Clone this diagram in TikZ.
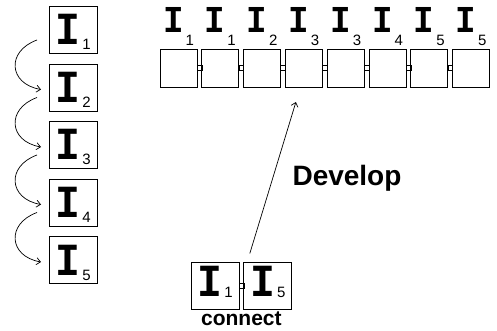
\documentclass[tikz,border=0pt]{standalone}
\usepackage{fontspec}
\setsansfont{Liberation Sans}
\newfontfamily\Ifont{Liberation Mono}
\newfontfamily\digitfont{Liberation Sans}
\usepackage{graphicx}
\usepackage{tikz}
\usetikzlibrary{arrows.meta,positioning}

% I with a lowered digit
\newcommand{\Isub}[2][5pt]{\scalebox{0.9}[1]{\Ifont\bfseries I}\kern2pt\raisebox{-#1}{\digitfont\fontsize{15}{15}\selectfont #2}}

\begin{document}
\begin{tikzpicture}[x=1pt, y=1pt, >={Straight Barb[length=4pt,width=7pt]},
    cell/.style={draw, line width=0.8pt, minimum width=48pt, minimum height=47pt, inner sep=0pt, outer sep=0pt, text height=35pt, text depth=5pt, font=\fontsize{46}{46}\selectfont},
    slot/.style={draw, line width=0.8pt, minimum width=37pt, minimum height=38pt, inner sep=0pt, outer sep=0pt},
    link/.style={draw, line width=0.6pt, minimum width=4.8pt, minimum height=5pt, inner sep=0pt, outer sep=0pt},
    tag/.style={inner sep=0pt, text height=19pt, text depth=13pt, font=\fontsize{38}{38}\selectfont},
    hop/.style={->, line width=0.7pt}]
    \useasboundingbox (0,0) rectangle (497,-331);

    % Left column
    \node[cell] (L1) at (73,-30) {\Isub{1}};
    \node[cell, below=10.5pt of L1] (L2) {\Isub{2}};
    \node[cell, below=10.5pt of L2] (L3) {\Isub{3}};
    \node[cell, below=10.5pt of L3] (L4) {\Isub{4}};
    \node[cell, below=10.5pt of L4] (L5) {\Isub{5}};

    \draw[hop] ([shift={(-12,-10)}]L1.west) to[out=200, in=170, looseness=1.7] ([shift={(-8,-2)}]L2.west);
    \draw[hop] ([shift={(-12,-10)}]L2.west) to[out=200, in=170, looseness=1.7] ([shift={(-8,-2)}]L3.west);
    \draw[hop] ([shift={(-12,-10)}]L3.west) to[out=200, in=170, looseness=1.7] ([shift={(-8,-2)}]L4.west);
    \draw[hop] ([shift={(-12,-10)}]L4.west) to[out=200, in=170, looseness=1.7] ([shift={(-8,-2)}]L5.west);

    % Top row
    \node[slot] (b1) at (178.5,-68) {};
    \node[link, right=0pt of b1] (k1) {};
    \node[slot, right=0pt of k1] (b2) {};
    \node[link, right=0pt of b2] (k2) {};
    \node[slot, right=0pt of k2] (b3) {};
    \node[link, right=0pt of b3] (k3) {};
    \node[slot, right=0pt of k3] (b4) {};
    \node[link, right=0pt of b4] (k4) {};
    \node[slot, right=0pt of k4] (b5) {};
    \node[link, right=0pt of b5] (k5) {};
    \node[slot, right=0pt of k5] (b6) {};
    \node[link, right=0pt of b6] (k6) {};
    \node[slot, right=0pt of k6] (b7) {};
    \node[link, right=0pt of b7] (k7) {};
    \node[slot, right=0pt of k7] (b8) {};

    \node[tag, above=3pt of b1] (t1) {\Isub[13pt]{1}};
    \node[tag, above=3pt of b2] (t2) {\Isub[13pt]{1}};
    \node[tag, above=3pt of b3] (t3) {\Isub[13pt]{2}};
    \node[tag, above=3pt of b4] (t4) {\Isub[13pt]{3}};
    \node[tag, above=3pt of b5] (t5) {\Isub[13pt]{3}};
    \node[tag, above=3pt of b6] (t6) {\Isub[13pt]{4}};
    \node[tag, above=3pt of b7] (t7) {\Isub[13pt]{5}};
    \node[tag, above=3pt of b8] (t8) {\Isub[13pt]{5}};

    % Connected pair
    \node[cell, text height=25pt] (p1) at (215,-286) {\Isub[1pt]{1}};
    \node[link, right=0pt of p1] (pk) {};
    \node[cell, text height=25pt, right=0pt of pk] (p2) {\Isub[1pt]{5}};
    \coordinate (pb) at (pk |- p1.south);
    \node[inner sep=0pt, below=2pt of pb, font=\sffamily\bfseries\fontsize{21}{21}\selectfont] (conn) {connect};

    % Develop arrow
    \node[inner sep=0pt, font=\sffamily\bfseries\fontsize{28}{28}\selectfont] (dev) at (347,-178) {Develop};
    \coordinate (dfrom) at ([shift={(-18,9)}]p2.north);
    \coordinate (dto) at ([shift={(-8,-15)}]b4.south);
    \draw[hop] (dfrom) -- (dto);
\end{tikzpicture}
\end{document}
